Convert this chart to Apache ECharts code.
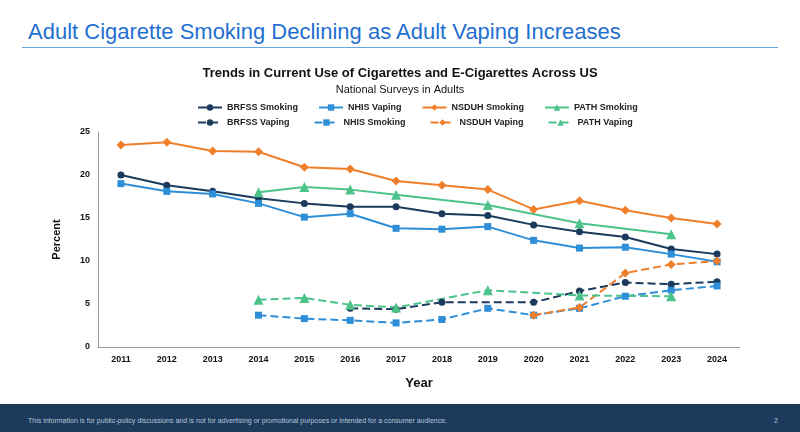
<!DOCTYPE html>
<html><head><meta charset="utf-8">
<script src="https://cdn.jsdelivr.net/npm/echarts@6/dist/echarts.min.js"></script>
<style>
body{margin:0;width:800px;height:432px;overflow:hidden;background:#fff;font-family:Arial,"Liberation Sans",sans-serif;position:relative}
#hdr{position:absolute;left:28px;top:19px;font-size:22px;color:#1f6fd1}
#rule{position:absolute;left:22px;right:22px;top:47px;height:1px;background:#6aa7e0}
#chart{position:absolute;left:0;top:52px;width:800px;height:352px}
#foot{position:absolute;left:0;top:404px;width:800px;height:28px;background:#1b3a5c;color:#b9c6d6;font-size:7px}
#foot span{position:absolute;top:13px}
</style></head><body>
<div id="hdr">Adult Cigarette Smoking Declining as Adult Vaping Increases</div>
<div id="rule"></div>
<div id="chart"></div>
<div id="foot"><span style="left:28px">This information is for public-policy discussions and is not for advertising or promotional purposes or intended for a consumer audience.</span><span style="left:774px">2</span></div>
<script>
const years=['2011','2012','2013','2014','2015','2016','2017','2018','2019','2020','2021','2022','2023','2024'];
const brfssSmoking=[20.0,18.8,18.1,17.3,16.7,16.3,16.3,15.5,15.3,14.2,13.4,12.8,11.4,10.8];
const nhisVaping=[19.0,18.1,17.8,16.7,15.1,15.5,13.8,13.7,14.0,12.4,11.5,11.6,10.8,9.9];
const nsduhSmoking=[23.5,23.8,22.8,22.7,20.9,20.7,19.3,18.8,18.3,16.0,17.0,15.9,15.0,14.3];
const pathSmoking=[null,null,null,18.0,18.6,18.3,17.7,null,16.5,null,14.4,null,13.1,null];
const brfssVaping=[null,null,null,null,null,4.5,4.4,5.2,null,5.2,6.5,7.5,7.3,7.6];
const nhisSmoking=[null,null,null,3.7,3.3,3.1,2.8,3.2,4.5,3.7,4.5,5.9,6.6,7.1];
const nsduhVaping=[null,null,null,null,null,null,null,null,null,3.7,4.6,8.6,9.6,10.0];
const pathVaping=[null,null,null,5.5,5.7,4.9,4.6,null,6.6,null,6.0,null,5.9,null];
const C={b:'#1b3a5c',n:'#2e8fd8',d:'#f07f2c',p:'#4cc38a'};
function s(name,data,color,sym,dashed){return {name,type:'line',data,connectNulls:true,symbol:sym,symbolSize:sym==='triangle'?10:(sym==='diamond'?9:7),
 itemStyle:{color},lineStyle:{color,width:2,type:dashed?'dashed':'solid'}};}
const ch=echarts.init(document.getElementById('chart'));
const lt={fontSize:9,fontWeight:'bold',color:'#222'};
ch.setOption({
 animation:false,
 title:{text:'Trends in Current Use of Cigarettes and E-Cigarettes Across US',subtext:'National Surveys in Adults',left:'center',top:10,itemGap:4,
  textStyle:{fontSize:13,fontWeight:'bold',color:'#111'},subtextStyle:{fontSize:11,color:'#111'}},
 legend:[{data:['BRFSS Smoking','NHIS Vaping','NSDUH Smoking','PATH Smoking'],left:192,top:46,itemGap:20,itemWidth:24,itemHeight:8,itemStyle:{},textStyle:lt},
  {data:['BRFSS Vaping','NHIS Smoking','NSDUH Vaping','PATH Vaping'],left:192,top:61,itemGap:24,itemWidth:24,itemHeight:8,textStyle:lt}],
 grid:{left:98,right:60,top:80,bottom:57},
 xAxis:{type:'category',data:years,name:'Year',nameLocation:'middle',nameGap:30,nameTextStyle:{fontSize:13,fontWeight:'bold',color:'#111'},
  axisLine:{lineStyle:{color:'#999'}},axisTick:{show:false},axisLabel:{fontSize:9,fontWeight:'bold',color:'#111'}},
 yAxis:{type:'value',min:0,max:25,interval:5,name:'Percent',nameLocation:'middle',nameGap:36,nameTextStyle:{fontSize:11,fontWeight:'bold',color:'#111'},
  splitLine:{show:false},axisLine:{show:true,lineStyle:{color:'#999'}},axisLabel:{fontSize:9,fontWeight:'bold',color:'#111'}},
 series:[s('BRFSS Smoking',brfssSmoking,C.b,'circle'),s('NHIS Vaping',nhisVaping,C.n,'rect'),s('NSDUH Smoking',nsduhSmoking,C.d,'diamond'),s('PATH Smoking',pathSmoking,C.p,'triangle'),
  s('BRFSS Vaping',brfssVaping,C.b,'circle',1),s('NHIS Smoking',nhisSmoking,C.n,'rect',1),s('NSDUH Vaping',nsduhVaping,C.d,'diamond',1),s('PATH Vaping',pathVaping,C.p,'triangle',1)]
});
</script></body></html>
